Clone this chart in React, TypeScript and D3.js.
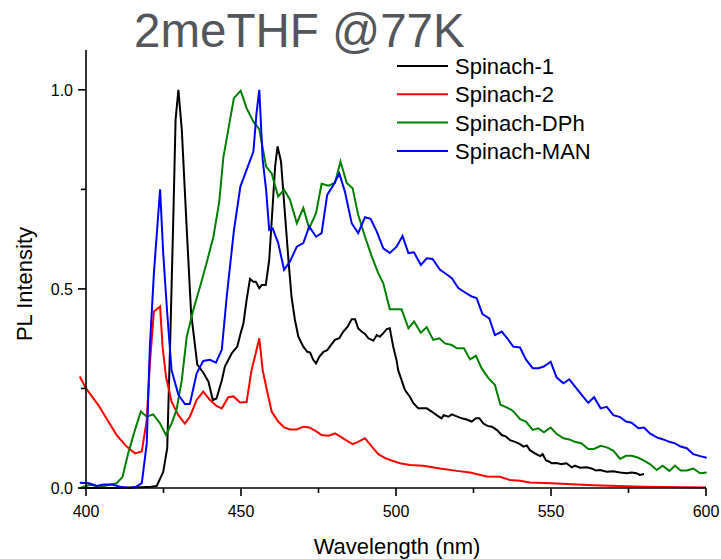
import React from "react";
import * as d3 from "d3";

const seriesNames = ["Spinach-1", "Spinach-2", "Spinach-DPh", "Spinach-MAN"];
const seriesColors = ["#000000", "#ff0000", "#008000", "#0000ff"];

const xTicksMajor = [400, 450, 500, 550, 600];
const yTicksMajor = [0, 0.5, 1.0];

const spinach1: [number, number][] = [
  [398, 0], [402, 0], [406, 0], [410, 0], [414, 0.001], [418, 0.002], [421, 0.003], [422.8, 0.005],
  [424.9, 0.04], [426.2, 0.1], [427.2, 0.38], [428.2, 0.69], [428.9, 0.925], [429.8, 1.0], [430.9, 0.9],
  [432.5, 0.65], [433.9, 0.44], [435.2, 0.355], [435.9, 0.31], [437.8, 0.29], [439.5, 0.267],
  [440.9, 0.221], [442.1, 0.225], [443.8, 0.27], [444.8, 0.305], [447, 0.338], [448.8, 0.355],
  [449.9, 0.389], [450.8, 0.414], [451.8, 0.472], [452.9, 0.525], [454, 0.518], [454.8, 0.518],
  [455.9, 0.502], [456.7, 0.51], [458, 0.51], [459.1, 0.573], [460.2, 0.707], [461, 0.807],
  [461.8, 0.858], [462.9, 0.82], [464, 0.707], [465.3, 0.573], [466.3, 0.48], [467.4, 0.422],
  [468.5, 0.38], [470.1, 0.355], [471.4, 0.342], [472.3, 0.34], [473.3, 0.322], [474.2, 0.313],
  [475.3, 0.33], [476.6, 0.342], [477.8, 0.346], [479, 0.359], [480.3, 0.372], [481.7, 0.376],
  [483, 0.393], [484.4, 0.405], [485.7, 0.424], [486.8, 0.424], [487.8, 0.401], [488.9, 0.393],
  [490, 0.387], [491.1, 0.376], [492.7, 0.37], [493.8, 0.384], [494.8, 0.38], [495.9, 0.389],
  [497, 0.399], [498, 0.401], [499.1, 0.355], [500.2, 0.32], [500.7, 0.296], [501.8, 0.271],
  [502.9, 0.246], [504.5, 0.229], [505.6, 0.213], [507.2, 0.2], [508.8, 0.2], [509.9, 0.2],
  [511.5, 0.192], [513.1, 0.183], [514.7, 0.175], [515.4, 0.183], [516.9, 0.179], [518, 0.185],
  [519.6, 0.18], [521.2, 0.175], [522.8, 0.172], [524.4, 0.167], [525.8, 0.175], [526.9, 0.175],
  [528.2, 0.162], [529.5, 0.156], [530.9, 0.154], [532.5, 0.146], [534.1, 0.133], [535.5, 0.129],
  [536.8, 0.12], [538.4, 0.116], [540, 0.11], [541.1, 0.104], [542.2, 0.107], [543.2, 0.095],
  [544.8, 0.087], [546.5, 0.08], [547.3, 0.085], [548.4, 0.069], [549.5, 0.066], [550.2, 0.062],
  [551.8, 0.063], [553.4, 0.06], [555, 0.062], [556.7, 0.052], [557.7, 0.056], [559.4, 0.051],
  [561.5, 0.052], [563.1, 0.049], [564.5, 0.044], [565.8, 0.045], [568, 0.041], [570.1, 0.042],
  [572.3, 0.039], [574.4, 0.037], [576, 0.039], [577.6, 0.037], [578.7, 0.033], [580, 0.035],
];

const spinach2: [number, number][] = [
  [398, 0.28], [400, 0.25], [404, 0.208], [407.2, 0.167], [409.9, 0.133], [413.1, 0.104],
  [415.8, 0.087], [418, 0.092], [419.6, 0.171], [420.6, 0.313], [421.9, 0.443], [423.9, 0.456],
  [424.7, 0.355], [425.8, 0.28], [427.6, 0.217], [429.8, 0.183], [431.9, 0.162], [433.5, 0.179],
  [435.7, 0.221], [437.8, 0.242], [440, 0.221], [442.1, 0.206], [443.8, 0.2], [445.9, 0.228],
  [447.6, 0.23], [449.7, 0.215], [451.8, 0.216], [453.4, 0.296], [454.5, 0.33], [455.9, 0.376],
  [457, 0.296], [458.1, 0.255], [459.9, 0.192], [462, 0.167], [463.9, 0.152], [465.8, 0.147],
  [468, 0.147], [470.1, 0.154], [472, 0.152], [473.9, 0.144], [476, 0.133], [478.2, 0.131],
  [480.3, 0.137], [482.1, 0.129], [484.1, 0.119], [486, 0.11], [487.8, 0.116], [490, 0.125],
  [492.2, 0.104], [494.3, 0.085], [496.5, 0.075], [498.6, 0.069], [501.3, 0.062], [504.5, 0.058],
  [508.8, 0.056], [514.2, 0.049], [519.6, 0.043], [523.9, 0.039], [529.3, 0.029], [533.5, 0.028],
  [536.8, 0.02], [540, 0.018], [543.2, 0.014], [549.9, 0.012], [563.6, 0.007], [579.7, 0.003],
  [600, 0.001],
];

const spinachDPh: [number, number][] = [
  [398, 0.0], [401.3, 0.008], [404.5, 0.003], [407.7, 0.008], [409.9, 0.012], [411.8, 0.028],
  [413.6, 0.087], [415.8, 0.146], [417.7, 0.192], [419.6, 0.179], [421.7, 0.185], [423.9, 0.162],
  [425.8, 0.133], [427.6, 0.162], [429.2, 0.196], [430.9, 0.271], [432.5, 0.38], [434.6, 0.447],
  [436.8, 0.506], [438.9, 0.565], [441.1, 0.631], [443, 0.72], [444.3, 0.83], [445.9, 0.9],
  [447.7, 0.979], [449.9, 0.998], [451.8, 0.954], [454, 0.92], [455.9, 0.901], [458.1, 0.807],
  [459.9, 0.79], [460.6, 0.77], [462, 0.732], [463.9, 0.749], [465.8, 0.724], [468, 0.665],
  [470.1, 0.703], [472, 0.652], [474.2, 0.69], [476, 0.764], [478.2, 0.759], [480.3, 0.766],
  [482.1, 0.82], [484.1, 0.766], [486, 0.753], [487.8, 0.686], [490, 0.631], [492.2, 0.581],
  [494.3, 0.539], [495.9, 0.514], [498, 0.449], [501.8, 0.449], [504, 0.401], [505.8, 0.418],
  [508, 0.39], [509.9, 0.404], [512, 0.372], [514, 0.376], [515.8, 0.363], [518, 0.359],
  [519.6, 0.351], [521.9, 0.351], [523.9, 0.323], [525.8, 0.332], [527.6, 0.301], [529.8, 0.276],
  [531.9, 0.259], [533.7, 0.209], [535.5, 0.203], [537.3, 0.196], [538.4, 0.188], [540, 0.173],
  [541.9, 0.167], [544.1, 0.146], [545.9, 0.15], [547.7, 0.14], [549.9, 0.152], [551.8, 0.136],
  [554, 0.125], [555.9, 0.122], [557.7, 0.116], [559.9, 0.112], [562, 0.098], [563.9, 0.098],
  [566, 0.106], [568, 0.102], [570.1, 0.094], [572.3, 0.073], [574.2, 0.081], [576, 0.081],
  [578.2, 0.076], [580, 0.069], [581.9, 0.06], [584.1, 0.045], [586, 0.056], [588.2, 0.043],
  [590, 0.056], [591.8, 0.044], [593.8, 0.044], [595.9, 0.049], [598.1, 0.037], [600.2, 0.039],
];

const spinachMAN: [number, number][] = [
  [398, 0.013], [401, 0.012], [403.5, 0.005], [405.6, 0.009], [408.3, 0.009], [411, 0.003],
  [414.2, 0.0], [416.1, 0.003], [418, 0.012], [419.6, 0.112], [420.6, 0.355], [421.9, 0.539],
  [423.9, 0.75], [424.9, 0.59], [426.2, 0.439], [427.6, 0.296], [429.8, 0.234], [431.9, 0.211],
  [433.5, 0.211], [435.7, 0.288], [437.8, 0.319], [440, 0.322], [441.9, 0.315], [443.8, 0.347],
  [445.4, 0.481], [447.7, 0.646], [449.8, 0.757], [451.8, 0.799], [454, 0.845], [455, 0.941],
  [455.9, 1.0], [457, 0.824], [458.1, 0.749], [459.1, 0.648], [460.2, 0.652], [462, 0.615],
  [463.9, 0.548], [465.8, 0.569], [468, 0.606], [470.1, 0.615], [472, 0.657], [474.2, 0.631],
  [476, 0.64], [477.8, 0.736], [479.8, 0.761], [481.7, 0.79], [483.5, 0.745], [485.7, 0.665],
  [487.8, 0.64], [490, 0.68], [491.8, 0.676], [493.8, 0.644], [495.9, 0.602], [498, 0.59],
  [500.2, 0.606], [502.1, 0.633], [504, 0.59], [505.8, 0.592], [508, 0.56], [509.9, 0.577],
  [511.8, 0.575], [514.2, 0.548], [516.1, 0.538], [518, 0.527], [520.1, 0.502], [522.3, 0.491],
  [524.4, 0.481], [526, 0.477], [527.9, 0.437], [530.1, 0.426], [531.9, 0.384], [534.1, 0.393],
  [535.9, 0.376], [537.8, 0.355], [540, 0.353], [541.9, 0.323], [544.1, 0.301], [545.9, 0.301],
  [547.7, 0.305], [549.9, 0.317], [551.8, 0.278], [554, 0.263], [555.9, 0.273], [557.7, 0.255],
  [559.9, 0.234], [562, 0.214], [563.9, 0.228], [566, 0.2], [568, 0.204], [570.1, 0.183],
  [572.3, 0.178], [574.2, 0.167], [576, 0.164], [578.2, 0.15], [580, 0.152], [581.9, 0.137],
  [584.1, 0.127], [586.2, 0.122], [588.2, 0.116], [590, 0.112], [591.8, 0.104], [593.8, 0.1],
  [595.9, 0.085], [598.1, 0.08], [600.2, 0.076],
];

const allSeries = [spinach1, spinach2, spinachDPh, spinachMAN];

const W = 721;
const H = 559;
const FONT = "'Liberation Sans', Arial, sans-serif";

export default function App() {
  const x = d3.scaleLinear().domain([400, 600]).range([86, 706]);
  const y = d3.scaleLinear().domain([0, 1.1]).range([488, 50]);
  const line = d3
    .line<[number, number]>()
    .x((d) => x(d[0]))
    .y((d) => y(d[1]));

  const xMinor = d3.range(425, 600, 50);
  const yMinor = [0.25, 0.75];
  const fmt = d3.format(".1f");

  return (
    <svg
      width={W}
      height={H}
      style={{ position: "absolute", left: 0, top: 0, background: "#fff" }}
      fontFamily={FONT}
    >
      <text x={134} y={47} fontSize={47.5} fill="#53575b">
        2meTHF @77K
      </text>

      {allSeries.map((s, i) => (
        <path
          key={seriesNames[i]}
          d={line(s) || ""}
          fill="none"
          stroke={seriesColors[i]}
          strokeWidth={2}
          strokeLinejoin="miter"
        />
      ))}

      {/* axes */}
      <line x1={x(400)} x2={x(400)} y1={y(1.1)} y2={y(0)} stroke="#000" strokeWidth={1.6} />
      <line x1={x(400)} x2={x(600)} y1={y(0)} y2={y(0)} stroke="#000" strokeWidth={1.6} />

      {yTicksMajor.map((t) => (
        <g key={"ym" + t}>
          <line x1={x(400) - 8} x2={x(400)} y1={y(t)} y2={y(t)} stroke="#000" strokeWidth={1.6} />
          <text x={73} y={y(t) + 6} fontSize={16} textAnchor="end" fill="#000">
            {fmt(t)}
          </text>
        </g>
      ))}
      {yMinor.map((t) => (
        <line key={"yn" + t} x1={x(400) - 5} x2={x(400)} y1={y(t)} y2={y(t)} stroke="#000" strokeWidth={1.6} />
      ))}

      {xTicksMajor.map((t) => (
        <g key={"xm" + t}>
          <line x1={x(t)} x2={x(t)} y1={y(0)} y2={y(0) + 8} stroke="#000" strokeWidth={1.6} />
          <text x={x(t)} y={517} fontSize={16} textAnchor="middle" fill="#000">
            {t}
          </text>
        </g>
      ))}
      {xMinor.map((t) => (
        <line key={"xn" + t} x1={x(t)} x2={x(t)} y1={y(0)} y2={y(0) + 5} stroke="#000" strokeWidth={1.6} />
      ))}

      <text x={397} y={554} fontSize={22} textAnchor="middle" fill="#000">
        Wavelength (nm)
      </text>
      <text
        transform={`translate(32, 284) rotate(-90)`}
        fontSize={22}
        textAnchor="middle"
        fill="#000"
      >
        PL Intensity
      </text>

      {/* legend */}
      {seriesNames.map((n, i) => (
        <g key={"lg" + n} transform={`translate(0, ${66 + i * 28.3})`}>
          <line x1={397} x2={448} y1={0} y2={0} stroke={seriesColors[i]} strokeWidth={2} />
          <text x={455} y={8} fontSize={22} fill="#000">
            {n}
          </text>
        </g>
      ))}
    </svg>
  );
}
